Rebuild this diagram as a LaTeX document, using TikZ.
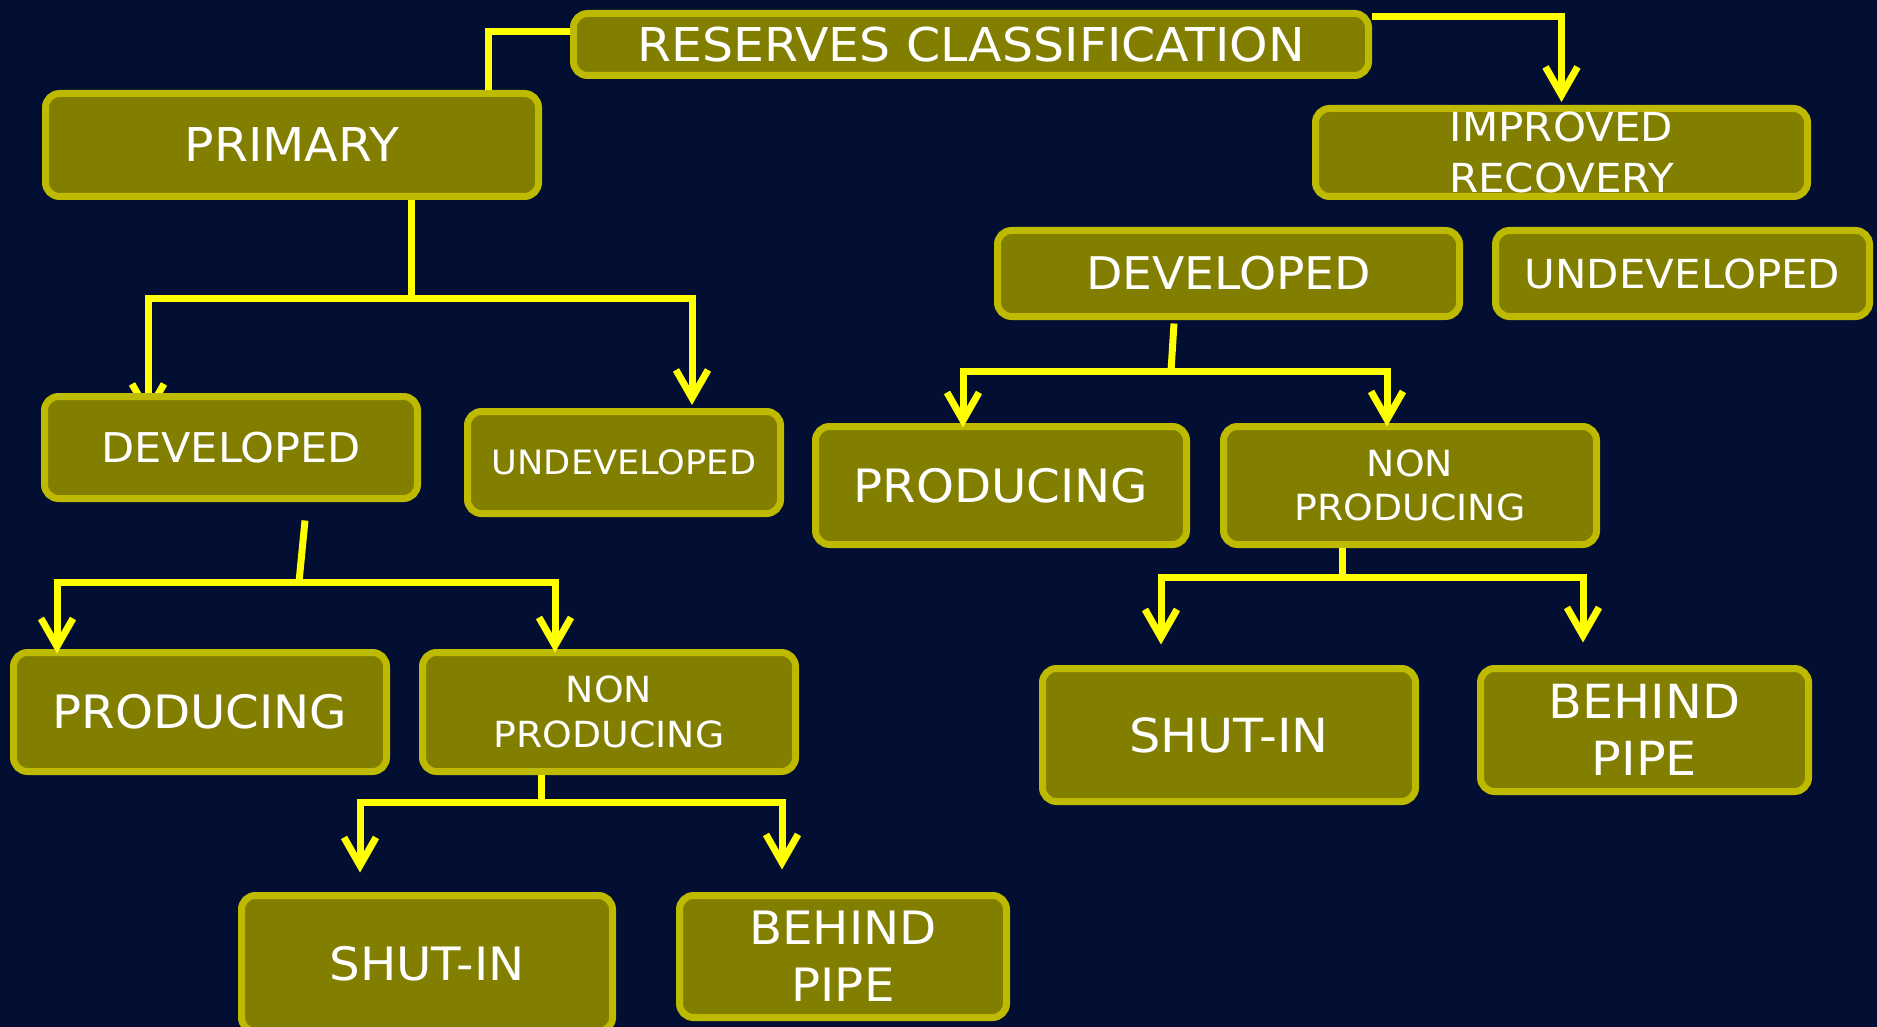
\documentclass[tikz,border=0pt]{standalone}
\usepackage{fontspec}
\setmainfont{DejaVu Sans}[FakeStretch=1.05]
\usetikzlibrary{arrows.meta,calc}
\definecolor{bgc}{RGB}{2,14,50}
\definecolor{boxfill}{RGB}{130,126,0}
\definecolor{boxline}{RGB}{190,186,0}
\definecolor{wire}{RGB}{255,255,0}
\pgfdeclarelayer{bglayer}
\pgfdeclarelayer{behind}
\pgfsetlayers{bglayer,behind,main}
\newcommand\fsz[2]{\fontsize{#1}{#2}\selectfont}
\begin{document}
\begin{tikzpicture}[x=1pt,y=-1pt,
  box/.style={draw=boxline,fill=boxfill,line width=7pt,rounded corners=14pt,
    text=white,inner sep=0pt,align=center},
  conn/.style={draw=wire,line width=7pt},
  conna/.style={conn,-{Straight Barb[length=28pt,width=32pt]}}]
\useasboundingbox (0,0) rectangle (1877,1027);
\begin{pgfonlayer}{bglayer}
  \fill[bgc] (0,0) rectangle (1877,1027);
\end{pgfonlayer}

% nodes
\node[box,minimum width=795pt,minimum height=62pt,font=\fsz{46.6}{50}] (res) at (971,44.5) {RESERVES CLASSIFICATION};
\node[box,minimum width=493pt,minimum height=103pt,font=\fsz{46.6}{50}] (prim) at (292,145) {PRIMARY};
\node[box,minimum width=492pt,minimum height=88pt,font=\fsz{40}{51}] (imp) at (1561.5,152.5) {IMPROVED\\RECOVERY};
\node[box,minimum width=462pt,minimum height=86pt,font=\fsz{45}{50}] (devR) at (1228.5,273.5) {DEVELOPED};
\node[box,minimum width=374pt,minimum height=86pt,font=\fsz{40}{48}] (undR) at (1682.5,273.5) {UNDEVELOPED};
\node[box,minimum width=373pt,minimum height=102pt,font=\fsz{41}{48}] (devL) at (231,447.5) {DEVELOPED};
\node[box,minimum width=313pt,minimum height=102pt,font=\fsz{33.5}{40}] (undL) at (624,462.5) {UNDEVELOPED};
\node[box,minimum width=371pt,minimum height=118pt,font=\fsz{46}{50}] (prodR) at (1001,485.5) {PRODUCING};
\node[box,minimum width=373pt,minimum height=118pt,font=\fsz{36}{44.5}] (nonR) at (1410,485.5) {NON\\PRODUCING};
\node[box,minimum width=373pt,minimum height=119pt,font=\fsz{46}{50}] (prodL) at (200,712) {PRODUCING};
\node[box,minimum width=373pt,minimum height=119pt,font=\fsz{36}{45}] (nonL) at (609,712) {NON\\PRODUCING};
\node[box,minimum width=371pt,minimum height=136pt,font=\fsz{46}{50}] (shutL) at (427,963.5) {SHUT-IN};
\node[box,minimum width=327pt,minimum height=122pt,font=\fsz{46}{57}] (behL) at (843,956.5) {BEHIND\\PIPE};
\node[box,minimum width=373pt,minimum height=133pt,font=\fsz{47}{52}] (shutR) at (1229,735) {SHUT-IN};
\node[box,minimum width=328pt,minimum height=123pt,font=\fsz{47}{57}] (behR) at (1644.5,730) {BEHIND\\PIPE};

% junctions
\coordinate (j1) at (411,298);
\coordinate (j2) at (299,582);
\coordinate (j3) at (541,802);
\coordinate (j4) at (1171,371);
\coordinate (j5) at (1342,577);

% connectors
\draw[conn] ([yshift=12.5pt]res.west) -| ([xshift=196pt]prim.north);
\draw[conna] ([yshift=27.5pt]res.east) -| ([yshift=3pt]imp.north);

\draw[conn] ([xshift=119pt]prim.south) -- (j1);
\begin{pgfonlayer}{behind}
  \draw[conna] (j1) -| ([xshift=-83pt,yshift=-26pt]devL.north);
\end{pgfonlayer}
\draw[conna] (j1) -| ([xshift=68pt,yshift=3pt]undL.north);

\draw[conn] ([xshift=74pt,yshift=-18.5pt]devL.south) -- (j2);
\draw[conna] (j2) -| ([xshift=-143pt,yshift=-4.5pt]prodL.north);
\draw[conna] (j2) -| ([xshift=-54pt,yshift=-3.5pt]nonL.north);

\draw[conn] ([xshift=-68pt]nonL.south) -- (j3);
\draw[conna] (j3) -| ([xshift=-67pt,yshift=19.5pt]shutL.north);
\draw[conna] (j3) -| ([xshift=-61pt,yshift=22.5pt]behL.north);

\draw[conn] ([xshift=-54.5pt,yshift=-3.5pt]devR.south) -- (j4);
\draw[conna] (j4) -| ([xshift=-38pt,yshift=-4.5pt]prodR.north);
\draw[conna] (j4) -| ([xshift=-23pt,yshift=-3.5pt]nonR.north);

\draw[conn] ([xshift=-68pt]nonR.south) -- (j5);
\draw[conna] (j5) -| ([xshift=-68pt,yshift=20.5pt]shutR.north);
\draw[conna] (j5) -| ([xshift=-61.5pt,yshift=22.5pt]behR.north);
\end{tikzpicture}
\end{document}
